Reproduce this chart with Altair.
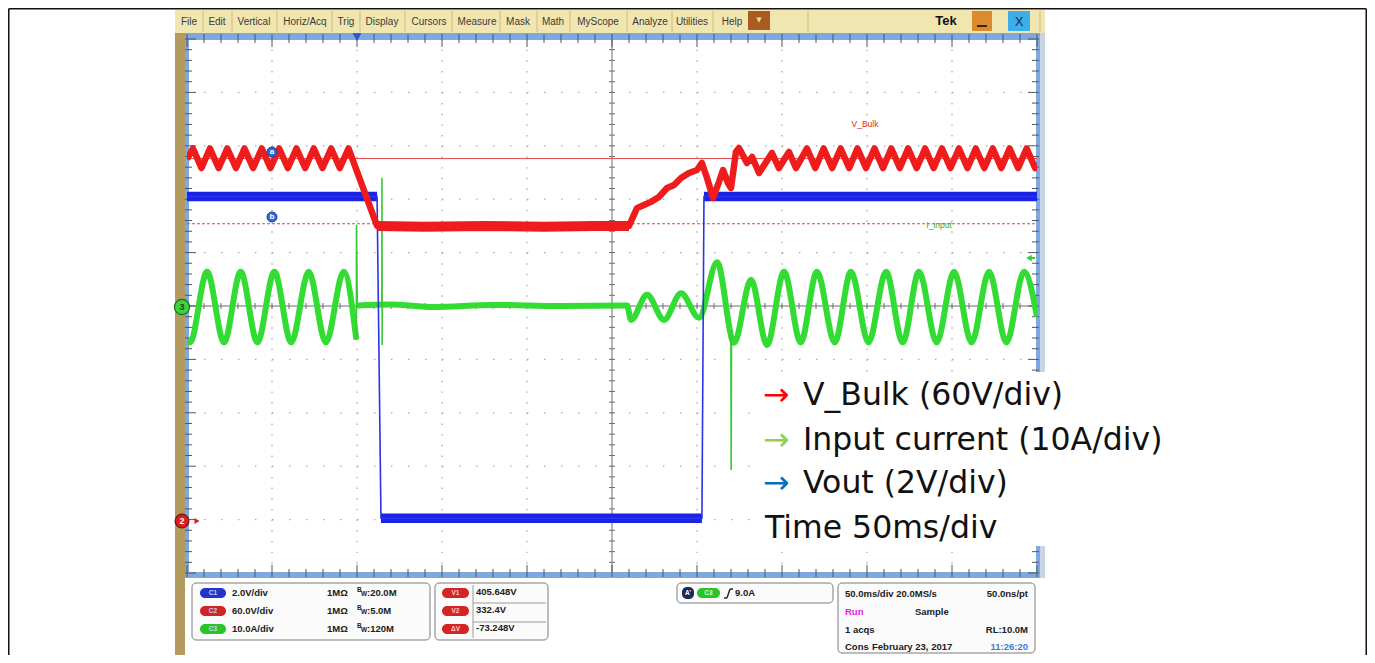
import altair as alt
import pandas as pd

# ------------------------------------------------------------------ data
# time in ms relative to the trigger (50 ms/div); the screen spans -100 .. 400 ms
# V_Bulk, volts (CH2, 60 V/div, ground 4 div below centre)
RED_T = [-100, -96.5, -91.5, -86.5, -81.4, -76.3, -71.2, -66.2, -61.1, -56.0,
         -50.9, -45.8, -40.7, -35.6, -30.5, -25.4, -20.3, -15.2, -10.1, -5.0,
         11.8, 40, 75, 110, 140, 160,
         164.7, 168.8, 172.9, 177.6, 182.4, 186.5, 190.6, 195.3, 200.0, 202.9,
         205.9, 209.4, 212.9, 215.3, 218.2, 220.0, 222.9, 224.7, 229.4, 232.4,
         236.5, 244.1, 248.2, 254.1, 258.2, 264.7, 269.6,
         274.5, 279.5, 284.5, 289.5, 294.4, 299.4, 304.4, 309.4, 314.3, 319.3,
         324.2, 329.2, 334.2, 339.2, 344.1, 349.1, 354.1, 359.1, 364.0, 369.0,
         374.0, 379.0, 383.9, 388.9, 393.9, 398.9, 400]
RED_V = [405, 417, 395, 417, 395, 417, 395, 417, 395, 417,
         395, 417, 395, 417, 395, 417, 395, 417, 395, 417,
         330, 329, 330, 329, 330, 330,
         350, 353.5, 357, 362.5, 372.6, 376, 383.8, 389.4, 392.8, 400.7,
         383.8, 361.3, 379.3, 392.8, 378.2, 372.6, 413, 417.5, 400.7, 407.4,
         389.4, 411.9, 395, 413, 395, 417, 395,
         417, 395, 417, 395, 417, 395, 417, 395, 417, 395,
         417, 395, 417, 395, 417, 395, 417, 395, 417, 395,
         417, 395, 417, 395, 417, 395, 397]

# Vout, volts (CH1, 2 V/div, ground 4 div below centre)
BLUE_T = [-100, 11.8, 14.1, 202.9, 204.1, 400]
BLUE_V = [12.1, 12.1, 0.05, 0.05, 12.1, 12.1]
BLUE_PART = ["hi1", "hi1", "lo", "lo", "hi2", "hi2"]

# Input current, amps (CH3, 10 A/div, ground at centre)
GREEN_T = [-100, -98.2, -88.2, -78.2, -68.4, -58.6, -48.6, -38.7, -28.4, -18.3, -7.8, -0.4,
           0.2, 20, 45, 80, 120, 158.8, 161.2, 170.6, 180.6, 190.6, 201.2, 211.8, 221.8, 231.8,
           241.2, 251.2, 261.0, 270.6, 281.0, 290.6, 300.9, 311.2, 321.0, 330.6, 341.0, 351.2,
           361.5, 371.8, 382.0, 392.4, 400]
GREEN_A = [-6.5, -6.8, 6.4, -6.8, 6.4, -6.8, 6.4, -6.8, 6.4, -6.8, 6.4, -6.3,
           0.1, 0.3, -0.2, 0.2, 0.0, 0.1, -2.6, 2.1, -2.6, 2.4, -2.2, 8.2, -6.9, 4.9,
           -7.3, 6.4, -6.8, 6.4, -6.8, 6.4, -6.8, 6.4, -6.8, 6.4, -6.8, 6.4,
           -6.8, 6.4, -6.8, 6.4, -2.0]
GREEN_PART = ["pre"] * 12 + ["post"] * 31
# narrow current spikes
SPIKE_T = [-0.4, -0.3, 0.2, 14.6, 14.7, 14.8, 14.9, 219.9, 220.1, 220.3]
SPIKE_A = [-6.3, 15.2, 0.1, 0.1, 24.0, -7.3, 0.1, -4.5, -30.7, -5.5]
SPIKE_ID = ["s1"] * 3 + ["s2"] * 4 + ["s3"] * 3

# cursors (V_Bulk)
CURSOR_NAME = ["a", "b"]
CURSOR_V = [405.648, 332.4]
CURSOR_TAG_V = [413.0, 340.0]
CURSOR_TAG_T = [-50, -50]

# on-screen labels
ANNOT_TEXT = ["V_Bulk", "I_input"]
ANNOT_T = [298.8, 342.4]
ANNOT_DIV = [3.41, 1.52]
ANNOT_COLOR = ["#d42a2a", "#34b034"]

# legend text
LEGEND_TEXT = ["V_Bulk (60V/div)", "Input current (10A/div)", "Vout (2V/div)", "Time 50ms/div"]
LEGEND_ARROW_COLOR = ["#ff0000", "#92d050", "#0070c0"]

# scope user interface texts
MENU_ITEMS = ["File", "Edit", "Vertical", "Horiz/Acq", "Trig", "Display", "Cursors", "Measure",
              "Mask", "Math", "MyScope", "Analyze", "Utilities", "Help"]
CH_TAGS = ["C1", "C2", "C3"]
CH_SCALE = ["2.0V/div", "60.0V/div", "10.0A/div"]
CH_BW = [":20.0M", ":5.0M", ":120M"]
CUR_TAGS = ["V1", "V2", "ΔV"]
CUR_READ = ["405.648V", "332.4V", "-73.248V"]

# ------------------------------------------------------------------ layout
W, H = 850, 534          # graticule (10 x 10 div)
OX, OY = 187, 39         # graticule position on the page
PAD = {"left": OX - 8, "top": OY - 8, "right": 1359 - (OX - 8) - W, "bottom": 647 - (OY - 8) - H}

RED, BLUE, GREEN = "#ee1c1c", "#1a22e6", "#33dc33"
BORDER = "#7ea8e0"
TICK = "#555555"

X = alt.Scale(domain=[-100, 400], nice=False, zero=False)
Y = alt.Scale(domain=[-5, 5], nice=False, zero=False)


def tx():
    return alt.X("t:Q", scale=X, axis=None)


def ty():
    return alt.Y("div:Q", scale=Y, axis=None)


def pxX(f):
    return alt.X(f"{f}:Q", scale=None, axis=None)


def pxY(f):
    return alt.Y(f"{f}:Q", scale=None, axis=None)


def rect_layer(rows, **mk):
    df = pd.DataFrame(rows, columns=["x1", "y1", "x2", "y2", "fill"])
    df["x1"] -= OX; df["x2"] -= OX; df["y1"] -= OY; df["y2"] -= OY
    return alt.Chart(df).mark_rect(**mk).encode(
        x=pxX("x1"), x2="x2:Q", y=pxY("y1"), y2="y2:Q", color=alt.Color("fill:N", scale=None))


def seg_layer(rows, color, width=1.0, **mk):
    df = pd.DataFrame(rows, columns=["x1", "y1", "x2", "y2"])
    df["x1"] -= OX; df["x2"] -= OX; df["y1"] -= OY; df["y2"] -= OY
    return alt.Chart(df).mark_rule(color=color, strokeWidth=width, **mk).encode(
        x=pxX("x1"), x2="x2:Q", y=pxY("y1"), y2="y2:Q")


def text_layer(rows, **mk):
    df = pd.DataFrame(rows, columns=["x", "y", "text", "color"])
    df["x"] -= OX; df["y"] -= OY
    return alt.Chart(df).mark_text(**mk).encode(
        x=pxX("x"), y=pxY("y"), text="text:N", color=alt.Color("color:N", scale=None))


def point_layer(rows, **mk):
    df = pd.DataFrame(rows, columns=["x", "y", "color"])
    df["x"] -= OX; df["y"] -= OY
    return alt.Chart(df).mark_point(filled=True, opacity=1, **mk).encode(
        x=pxX("x"), y=pxY("y"), color=alt.Color("color:N", scale=None))


layers = []

# ---- screen chrome (background parts)
layers.append(rect_layer([
    (175, 10, 1045, 33, "#f2e6b0"),      # menu bar
    (175, 33, 185, 663, "#b39a5e"),      # left strip
    (1040, 33, 1045, 578, "#c7d4e4"),    # right strip
    (748, 11, 770, 30, "#a95c1e"),       # drop-down button
    (972, 11, 992, 31, "#dc8a2e"),       # minimise
    (1008, 11, 1030, 31, "#3eaeea"),     # close
]))
sep_x = [203, 232, 277, 332, 360, 405, 452, 500, 537, 570, 627, 672, 713, 808, 1040]
layers.append(seg_layer([(x, 11, x, 32) for x in sep_x], "#cdbb86", 1))

# ---- graticule
minor_t = [-100 + 10 * k for k in range(51)]
minor_d = [round(-5 + 0.2 * k, 1) for k in range(51)]
layers.append(alt.Chart(pd.DataFrame({"t": [-50, 0, 50, 100, 200, 250, 300, 350]}))
              .mark_rule(color="#a8a8a8", strokeWidth=1.3, strokeDash=[1.4, 9.28])
              .encode(x=tx(), y=alt.value(0), y2=alt.value(H)))
layers.append(alt.Chart(pd.DataFrame({"div": [-4, -3, -2, -1, 1, 2, 3, 4]}))
              .mark_rule(color="#a8a8a8", strokeWidth=1.3, strokeDash=[1.4, 15.6])
              .encode(y=ty(), x=alt.value(0), x2=alt.value(W)))
layers.append(alt.Chart(pd.DataFrame({"t": [150]})).mark_rule(color="#6c6c6c", strokeWidth=1)
              .encode(x=tx(), y=alt.value(0), y2=alt.value(H)))
layers.append(alt.Chart(pd.DataFrame({"div": [0]})).mark_rule(color="#6c6c6c", strokeWidth=1)
              .encode(y=ty(), x=alt.value(0), x2=alt.value(W)))

cy, cx = H / 2, W / 2
tt = pd.DataFrame({"t": minor_t, "maj": [k % 5 == 0 for k in range(51)]})
td = pd.DataFrame({"div": minor_d, "maj": [k % 5 == 0 for k in range(51)]})
# centre-line ticks
c_t = tt.assign(a=cy - 3, b=cy + 3)
layers.append(alt.Chart(c_t).mark_rule(color="#6c6c6c", strokeWidth=1)
              .encode(x=tx(), y=pxY("a"), y2="b:Q"))
c_d = td.assign(a=cx - 3, b=cx + 3)
layers.append(alt.Chart(c_d).mark_rule(color="#6c6c6c", strokeWidth=1)
              .encode(y=ty(), x=pxX("a"), x2="b:Q"))

# blue border strips
layers.append(rect_layer([
    (185, 33, 1040, 40, BORDER),
    (185, 33, 189, 577, BORDER),
    (1036, 33, 1040, 577, BORDER),
    (185, 572, 1040, 578, BORDER),
]))
# edge ticks
top = tt.assign(a=-5, b=[8 if m else 4 for m in tt["maj"]])
bot = tt.assign(a=[H - 8 if m else H - 4 for m in tt["maj"]], b=H + 4)
lef = td.assign(a=-2, b=[9 if m else 5 for m in td["maj"]])
rig = td.assign(a=[W - 9 if m else W - 5 for m in td["maj"]], b=W + 2)
for d in (top, bot):
    layers.append(alt.Chart(d).mark_rule(color=TICK, strokeWidth=1)
                  .encode(x=tx(), y=pxY("a"), y2="b:Q"))
for d in (lef, rig):
    layers.append(alt.Chart(d).mark_rule(color=TICK, strokeWidth=1)
                  .encode(y=ty(), x=pxX("a"), x2="b:Q"))

# ---- cursors
cur = pd.DataFrame({"name": CURSOR_NAME, "v": CURSOR_V})
layers.append(alt.Chart(cur[cur.name == "a"]).transform_calculate(div="datum.v/60-4")
              .mark_rule(color="#e04848", strokeWidth=1).encode(y=ty(), x=alt.value(0), x2=alt.value(W)))
layers.append(alt.Chart(cur[cur.name == "b"]).transform_calculate(div="datum.v/60-4")
              .mark_rule(color="#c0583a", strokeWidth=1, strokeDash=[3, 2])
              .encode(y=ty(), x=alt.value(0), x2=alt.value(W)))

# ---- traces
green_df = pd.DataFrame({"t": GREEN_T, "a": GREEN_A, "part": GREEN_PART})
green_df["i"] = range(len(green_df))
spike_df = pd.DataFrame({"t": SPIKE_T, "a": SPIKE_A, "id": SPIKE_ID})
spike_df["i"] = range(len(spike_df))
blue_df = pd.DataFrame({"t": BLUE_T, "v": BLUE_V, "part": BLUE_PART})
blue_df["i"] = range(len(blue_df))
red_df = pd.DataFrame({"t": RED_T, "v": RED_V})
red_df["i"] = range(len(red_df))

layers.append(alt.Chart(green_df).transform_calculate(div="datum.a/10")
              .mark_line(color=GREEN, strokeWidth=6, interpolate="monotone", clip=True, strokeJoin="round")
              .encode(x=tx(), y=ty(), detail="part:N", order=alt.Order("i:Q")))
layers.append(alt.Chart(spike_df).transform_calculate(div="datum.a/10")
              .mark_line(color="#3cc83c", strokeWidth=1.6, clip=True)
              .encode(x=tx(), y=ty(), detail="id:N", order=alt.Order("i:Q")))
layers.append(alt.Chart(blue_df).transform_calculate(div="datum.v/2-4")
              .mark_line(color=BLUE, strokeWidth=9.5, clip=True)
              .encode(x=tx(), y=ty(), detail="part:N", order=alt.Order("i:Q")))
layers.append(alt.Chart(blue_df).transform_calculate(div="datum.v/2-4")
              .mark_line(color="#2a34e8", strokeWidth=1.6, clip=True)
              .encode(x=tx(), y=ty(), order=alt.Order("i:Q")))
flat = red_df[(red_df.t >= 11.8) & (red_df.t <= 160)]
layers.append(alt.Chart(flat).transform_calculate(div="datum.v/60-4")
              .mark_line(color=RED, strokeWidth=10, clip=True)
              .encode(x=tx(), y=ty(), order=alt.Order("i:Q")))
layers.append(alt.Chart(flat).transform_calculate(div="datum.v/60-4")
              .mark_line(color="#ff9a9a", strokeWidth=2, strokeDash=[2, 3], clip=True)
              .encode(x=tx(), y=ty(), order=alt.Order("i:Q")))
layers.append(alt.Chart(red_df).transform_calculate(div="datum.v/60-4")
              .mark_line(color=RED, strokeWidth=6.5, clip=True, strokeJoin="round")
              .encode(x=tx(), y=ty(), order=alt.Order("i:Q")))

# ---- markers and on-screen labels
tag = pd.DataFrame({"t": CURSOR_TAG_T, "v": CURSOR_TAG_V, "name": CURSOR_NAME})
layers.append(alt.Chart(tag).transform_calculate(div="datum.v/60-4")
              .mark_point(filled=True, opacity=1, size=100, color="#2f66d8", stroke="#1a3f9a", strokeWidth=1)
              .encode(x=tx(), y=ty()))
layers.append(alt.Chart(tag).transform_calculate(div="datum.v/60-4")
              .mark_text(color="white", fontSize=8, fontWeight="bold", font="Liberation Sans", dy=0)
              .encode(x=tx(), y=ty(), text="name:N"))
ann = pd.DataFrame({"t": ANNOT_T, "div": ANNOT_DIV, "text": ANNOT_TEXT, "color": ANNOT_COLOR})
layers.append(alt.Chart(ann).mark_text(fontSize=8.5, font="Liberation Sans")
              .encode(x=tx(), y=ty(), text="text:N", color=alt.Color("color:N", scale=None)))

layers.append(alt.Chart(pd.DataFrame({"t": [0]})).mark_point(shape="triangle-down", filled=True, opacity=1,
                                                              size=80, color="#2258d0")
              .encode(x=tx(), y=alt.value(-2)))
layers.append(point_layer([(1029, 258, "#33cc33")], shape="triangle-left", size=40))
layers.append(seg_layer([(1029, 258, 1035, 258)], "#33cc33", 2))
layers.append(point_layer([(182, 307, "#3fd23f")], shape="circle", size=230, stroke="#1c6a1c", strokeWidth=1.2))
layers.append(point_layer([(182, 521, "#d81f1f")], shape="circle", size=190, stroke="#7a1010", strokeWidth=1.2))
layers.append(point_layer([(197, 521, "#d81f1f")], shape="triangle-right", size=35))
layers.append(text_layer([(182, 307, "3", "#0f4f0f"), (182, 521, "2", "#ffffff")],
                         fontSize=9, fontWeight="bold", font="Liberation Sans"))

# ---- menu bar texts
MENU_X = [189, 217, 254, 305, 346, 382, 429, 477, 518, 553, 598, 650, 692, 732]
layers.append(text_layer([(x, 22, s, "#3a3a3a") for x, s in zip(MENU_X, MENU_ITEMS)],
                         fontSize=10, font="Liberation Sans"))
layers.append(text_layer([(946, 21, "Tek", "#111111")], fontSize=13, fontWeight="bold", font="Liberation Sans"))
layers.append(text_layer([(1019, 22, "X", "#0b2f57")], fontSize=13, font="Liberation Sans"))
layers.append(text_layer([(759, 20, "▼", "#f4d58a")], fontSize=7, font="DejaVu Sans"))
layers.append(seg_layer([(977, 26, 987, 26)], "#3a2408", 2))

# ---- bottom information panel
layers.append(rect_layer([
    (192, 583, 430, 640, "#fbfbfb"),
    (435, 583, 548, 640, "#fbfbfb"),
    (677, 583, 833, 603, "#fbfbfb"),
    (838, 583, 1035, 653, "#fbfbfb"),
], cornerRadius=4, stroke="#7c7c7c", strokeWidth=1))
layers.append(seg_layer([(473, 585, 473, 638), (473, 603, 546, 603), (473, 622, 546, 622)], "#9a9a9a", 1))
ROWS = [593, 611, 629]
pill_rows = []
for r, c in zip(ROWS, ["#2433c8", "#d02525", "#28c428"]):
    pill_rows.append((200, r - 5, 226, r + 5, c))
for r in ROWS:
    pill_rows.append((442, r - 5, 469, r + 5, "#d42424"))
pill_rows.append((697, 588, 720, 598, "#28c428"))
pill_rows.append((682, 587, 694, 599, "#1c2a5a"))
layers.append(rect_layer(pill_rows, cornerRadius=5))
pill_txt = [(213, r, s, "#c8d0ff") for r, s in zip(ROWS, CH_TAGS)]
pill_txt += [(455.5, r, s, "#ffd0d0") for r, s in zip(ROWS, CUR_TAGS)]
pill_txt += [(708.5, 593, "C3", "#d8ffd8"), (688, 593, "A'", "#ffffff")]
layers.append(text_layer(pill_txt, fontSize=6.5, font="Liberation Sans", fontWeight="bold"))

bold = [(232, r, s, "#202020") for r, s in zip(ROWS, CH_SCALE)]
bold += [(327, r, "1MΩ", "#202020") for r in ROWS]
bold += [(367, r, s, "#202020") for r, s in zip(ROWS, CH_BW)]
bold += [(476, r - 1, s, "#202020") for r, s in zip(ROWS, CUR_READ)]
bold += [(735, 593, "9.0A", "#202020")]
bold += [(845, 594, "50.0ms/div 20.0MS/s", "#202020"), (845, 612, "Run", "#e020e0"),
         (915, 612, "Sample", "#202020"), (845, 630, "1 acqs", "#202020"),
         (845, 647, "Cons", "#202020"), (872, 647, "February 23, 2017", "#202020")]
layers.append(text_layer(bold, fontSize=9.5, fontWeight="bold", font="Liberation Sans", align="left"))
right = [(1028, 594, "50.0ns/pt", "#202020"), (1028, 630, "RL:10.0M", "#202020"),
         (1028, 647, "11:26:20", "#3c7ad8")]
layers.append(text_layer(right, fontSize=9.5, fontWeight="bold", font="Liberation Sans", align="right"))
small = [(357, r - 3, "B", "#202020") for r in ROWS] + [(361, r + 1, "W", "#202020") for r in ROWS]
layers.append(text_layer(small, fontSize=6.5, fontWeight="bold", font="Liberation Sans", align="left"))
layers.append(seg_layer([(724, 598, 727, 598), (727, 598, 730, 589), (730, 589, 733, 589)], "#202020", 1.4))

# ---- legend overlay
layers.append(rect_layer([(756, 372, 1050, 546, "#ffffff")]))
LEG_Y = [405, 450, 493, 538]
arrows = [(763, y, "→", c) for y, c in zip(LEG_Y[:3], LEGEND_ARROW_COLOR)]
layers.append(text_layer(arrows, fontSize=31.5, font="DejaVu Sans", align="left", baseline="alphabetic"))
leg = [(803, y, s, "#111111") for y, s in zip(LEG_Y[:3], LEGEND_TEXT[:3])]
leg.append((765, LEG_Y[3], LEGEND_TEXT[3], "#111111"))
layers.append(text_layer(leg, fontSize=31.5, font="DejaVu Sans", align="left", baseline="alphabetic"))

# ---- outer frame of the picture
layers.append(seg_layer([(8.75, 8.75, 1366.25, 8.75), (8.75, 8.75, 8.75, 655),
                         (1366.25, 8.75, 1366.25, 655)], "#111111", 1.5))

chart = (alt.layer(*layers)
         .properties(width=W, height=H, padding=PAD, autosize=alt.AutoSizeParams(type="none"))
         .configure_view(strokeWidth=0)
         .configure(background="white"))

chart.save("out.html", embed_options={"renderer": "svg", "actions": False})
